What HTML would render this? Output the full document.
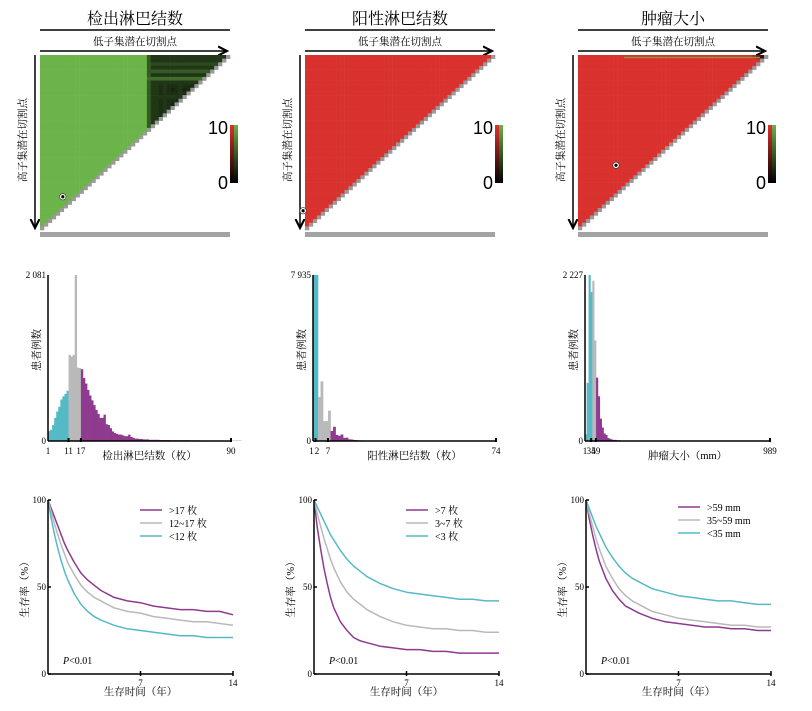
<!DOCTYPE html>
<html><head><meta charset="utf-8">
<style>
html,body{margin:0;padding:0;background:#fff;}
svg{display:block;font-family:"Liberation Serif","Noto Serif CJK SC","Noto Sans CJK SC",serif;}
</style></head>
<body>
<svg id="fig" width="812" height="711" viewBox="0 0 812 711" xmlns="http://www.w3.org/2000/svg">
<defs>
<linearGradient id="gG" x1="0" y1="1" x2="0" y2="0"><stop offset="0" stop-color="#000"/><stop offset="1" stop-color="#6ab24a"/></linearGradient>
<linearGradient id="gR" x1="0" y1="1" x2="0" y2="0"><stop offset="0" stop-color="#000"/><stop offset="1" stop-color="#e0302c"/></linearGradient>
<marker id="ah" markerWidth="8" markerHeight="8" refX="6" refY="4" orient="auto"><path d="M0,1 L6,4 L0,7" fill="none" stroke="#000" stroke-width="1.4"/></marker>
</defs>
</svg>
<script>
// ---------- data ----------
const panelTitles = ["检出淋巴结数","阳性淋巴结数","肿瘤大小"];
const panelX = [40, 305, 578];
const hm1ColVals = [10,10,10,10,10,10,10,10,10,10,10,10,10,10,10,10,10,10,10,10,10,10,10,10,10,10,10,5,3,3,2.5,3,2.5,2,2.5,3,2,2.5,2,3,2,2,1.5,2,1.5,1,1,1];
const hm1RowVals = [3,3,4,3,5,3,6,3,2.5,2,2.5,3,2.5,2,2,2,2.5,2,2,4,10,10,10,10,10,10,10,10,10,10,10,10,10,10,10,10,10,10,10,10,10,10,10,10,10,10,10,10];
const hm3ColVals = [10,10,10,10,10,10,10,10,10,10,10,10,10,10,10,10,10,10,10,10,10,10,10,10,10,10,10,10,10,10,10,10,10,10,10,10,10,10,10,10,10,10,10,10,8,5,2,1];
const hm3RowVals = [3,10,10,10,10,10,10,10,10,10,10,10,10,10,10,10,10,10,10,10,10,10,10,10,10,10,10,10,10,10,10,10,10,10,10,10,10,10,10,10,10,10,10,10,10,10,10,10];
const dots = [[0.12,0.81],[-0.01,0.89],[0.2,0.63]];

const h1Bins = [1,2,3,4,5,6,7,8,9,10,11,12,13,14,15,16,17,18,19,20,21,22,23,24,25,26,27,28,29,30,31,32,33,34,35,36,37,38,39,40,41,42,43,44,45,46,47,48,49,50,55,60,65,70,75,80,85,90];
const h1Vals = [125,140,200,290,370,430,520,560,590,630,1080,1060,1080,2081,920,915,900,790,720,640,570,510,450,390,340,290,290,330,210,200,160,120,100,90,80,80,70,60,60,80,50,40,30,30,25,25,20,20,20,15,12,10,10,8,6,5,4,3];
const h1Cut = [11,17];
const h2Bins = [1,2,3,4,5,6,7,8,9,10,11,12,13,14,15,16,17,18,19,20,22,24,26,28,30];
const h2Vals = [7935,7935,2100,2850,950,950,1450,480,680,290,250,310,150,160,80,70,50,40,30,25,20,15,10,8,5];
const h2Cut = [3,8];
const h3Bins = [1,10,20,30,40,50,60,70,80,90,100,110,120,130,140,150,170,190];
const h3Vals = [90,780,2227,2000,2150,1350,850,600,300,180,100,80,40,30,20,15,10,5];
const h3Cut = [35,59];
const histMax = [90,74,989];
const histYMax = ["2 081","7 935","2 227"];
const histTicks = [["1","11","17"],["1","2","7"],["1","34","59"]];
const histTickVals = [[1,11,17],[1,2,7],[1,34,59]];
const histXTitles = ["检出淋巴结数（枚）","阳性淋巴结数（枚）","肿瘤大小（mm）"];

const years = [0,0.25,0.5,0.75,1,1.25,1.5,2,2.5,3,3.5,4,5,6,7,8,9,10,11,12,13,14];
const s1a = [100,95,90,85,80,75,71,64,58,54,51,48,44,42,41,39,38,37,37,36,36,34];
const s1b = [100,93,86,80,74,69,64,57,51,47,44,42,38,36,35,33,32,31,30,30,29,28];
const s1c = [100,89,80,72,65,59,54,46,40,36,33,31,28,26,25,24,23,22,22,21,21,21];
const s2a = [100,84,72,61,52,44,38,30,25,21,19,18,16,15,14,14,13,13,12,12,12,12];
const s2b = [100,92,85,78,72,66,61,53,47,43,40,37,33,30,28,27,26,26,25,25,24,24];
const s2c = [100,96,92,88,84,80,77,71,66,62,59,56,52,49,47,46,45,44,43,43,42,42];
const s3a = [100,89,80,72,65,60,55,48,43,39,37,35,32,30,29,28,27,27,26,26,25,25];
const s3b = [100,92,85,78,72,67,62,55,49,45,42,40,36,34,32,31,30,29,28,28,27,27];
const s3c = [100,95,90,85,81,77,73,67,62,58,55,53,49,47,45,44,43,42,42,41,40,40];
const legends = [[">17 枚","12~17 枚","<12 枚"],[">7 枚","3~7 枚","<3 枚"],[">59 mm","35~59 mm","<35 mm"]];

// ---------- drawing ----------
const NS="http://www.w3.org/2000/svg";
const svg=document.getElementById("fig");
function mk(tag,attrs,parent){const e=document.createElementNS(NS,tag);for(const k in attrs)e.setAttribute(k,attrs[k]);(parent||svg).appendChild(e);return e;}
function txt(s,attrs,parent){const e=mk("text",attrs,parent);e.textContent=s;return e;}
const PUR="#8e3a8e",GRY="#b9b9b9",TEAL="#55bac6";
function mix(a,b,t){return "rgb("+[0,1,2].map(i=>Math.round(a[i]+(b[i]-a[i])*t)).join(",")+")";}

for(let p=0;p<3;p++){
  const x0=panelX[p], W=190;
  const g=mk("g",{});
  
  
  const t=txt(panelTitles[p],{x:x0+95,y:24,"font-size":16,"text-anchor":"middle"},g);
  
  
  mk("line",{x1:x0,y1:30,x2:x0+W,y2:30,stroke:"#000","stroke-width":1.6},g);
  const st=txt("低子集潜在切割点",{x:x0+95,y:45,"font-size":10.5,"text-anchor":"middle"},g);
  
  
  mk("line",{x1:x0,y1:51,x2:x0+W-3,y2:51,stroke:"#000","stroke-width":1.5,"marker-end":"url(#ah)"},g);
  mk("line",{x1:x0-5,y1:55,x2:x0-5,y2:228,stroke:"#000","stroke-width":1.5,"marker-end":"url(#ah)"},g);
  const vl=txt("高子集潜在切割点",{x:0,y:0,"font-size":10.5,"text-anchor":"middle",transform:`translate(${x0-14},140) rotate(-90)`},g);
  
  
  const N=48, c=W/N, top=55;
  const hm=mk("g",{},g);
  
  
  const base = p===0?[108,180,74]:[217,50,46];
  for(let i=0;i<N;i++){for(let j=0;j<N-i;j++){
    let v=10;
    if(p===0) v=Math.max(hm1ColVals[j],hm1RowVals[i]);
    if(p===2) v=Math.max(hm3ColVals[j],hm3RowVals[i]);
    const col=mix([0,0,0],base,v/10);
    const last=(j===N-i-1);
    const r=mk("rect",{x:x0+j*c,y:top+i*(175/N),width:c+0.3,height:175/N+0.3,fill:last?"#9a9a9a":col},hm);
    
    
  }}
  if(p===2) mk("line",{x1:x0+46,y1:57.5,x2:x0+182,y2:57.5,stroke:"#8a9a3a","stroke-width":1.2},g);
  mk("rect",{x:x0,y:232,width:W,height:5,fill:"#a3a3a3"},g);
  const d=dots[p];
  mk("circle",{cx:x0+d[0]*W,cy:top+d[1]*175,r:3.2,fill:"#fff",stroke:"#333","stroke-width":0.6},g);
  mk("circle",{cx:x0+d[0]*W,cy:top+d[1]*175,r:1.6,fill:"#000"},g);
  const cb=mk("g",{},g);
  
  
  mk("rect",{x:x0+190,y:125,width:4,height:58,fill:"url(#gR)"},cb);
  mk("rect",{x:x0+194,y:125,width:4,height:58,fill:"url(#gG)"},cb);
  txt("10",{x:x0+188,y:134,"font-size":18,"font-family":"Liberation Sans, sans-serif","text-anchor":"end"},cb);
  txt("0",{x:x0+188,y:189,"font-size":18,"font-family":"Liberation Sans, sans-serif","text-anchor":"end"},cb);
}

const HB=[{bins:h1Bins,vals:h1Vals,cut:h1Cut},{bins:h2Bins,vals:h2Vals,cut:h2Cut},{bins:h3Bins,vals:h3Vals,cut:h3Cut}];
const histAxisX=[48,313,585], histRight=[231,496,770], hTop=275, hBase=441;
for(let p=0;p<3;p++){
  const g=mk("g",{});
  
  
  const ax=histAxisX[p], xr=histRight[p], mx=histMax[p];
  const H=HB[p]; const ymax=Math.max(...H.vals);
  const xS=v=>ax+(v-1)/(mx-1)*(xr-ax);
  const yS=v=>hBase-v/ymax*(hBase-hTop);
  for(let i=0;i<H.bins.length;i++){
    const b=H.bins[i]; const nb=i+1<H.bins.length?H.bins[i+1]:b+(b-H.bins[i-1]);
    const col=b<H.cut[0]?TEAL:(b<H.cut[1]?GRY:PUR);
    const r=mk("rect",{x:xS(b),y:yS(H.vals[i]),width:Math.max(0.8,xS(nb)-xS(b))+0.3,height:hBase-yS(H.vals[i]),fill:col},g);
    
    
  }
  mk("line",{x1:ax,y1:hTop,x2:ax,y2:hBase,stroke:"#000","stroke-width":1.5},g);
  mk("line",{x1:ax,y1:hBase,x2:xr,y2:hBase,stroke:"#000","stroke-width":1.5},g);
  mk("line",{x1:xr,y1:hBase-3,x2:xr,y2:hBase+1,stroke:"#000","stroke-width":2},g);
  txt(histYMax[p],{x:ax-2,y:hTop+3,"font-size":9,"text-anchor":"end"},g);
  txt("0",{x:ax-2,y:hBase+3,"font-size":9,"text-anchor":"end"},g);
  histTickVals[p].forEach((v,k)=>{
    if(k>0) mk("line",{x1:xS(v),y1:hBase-3,x2:xS(v),y2:hBase+1,stroke:"#000","stroke-width":2},g);
    txt(histTicks[p][k],{x:xS(v)+(p===1&&k===0?-1.5:0)+(p===1&&k===1?1.5:0),y:hBase+13,"font-size":9,"text-anchor":"middle"},g);
  });
  txt(String(mx),{x:xr,y:hBase+13,"font-size":9,"text-anchor":"middle"},g);
  const xt=txt(histXTitles[p],{x:(ax+xr)/2+10,y:hBase+18,"font-size":10.5,"text-anchor":"middle"},g);
  
  
  const yt=txt("患者例数",{x:0,y:0,"font-size":10.5,"text-anchor":"middle",transform:`translate(${ax-8},350) rotate(-90)`},g);
  
  
}

const SV=[[s1a,s1b,s1c],[s2a,s2b,s2c],[s3a,s3b,s3c]];
const sAx=[48,314,586], sRight=[233,499,771], sTop=500, sBase=674;
for(let p=0;p<3;p++){
  const g=mk("g",{});
  
  
  const ax=sAx[p], xr=sRight[p];
  const xS=v=>ax+v/14*(xr-ax);
  const yS=v=>sBase-v/100*(sBase-sTop);
  const cols=[PUR,GRY,TEAL];
  SV[p].forEach((ser,k)=>{
    const d=ser.map((v,i)=>(i?"L":"M")+xS(years[i]).toFixed(1)+","+yS(v).toFixed(1)).join(" ");
    const pa=mk("path",{d:d,fill:"none",stroke:cols[k],"stroke-width":1.5,"stroke-linejoin":"round"},g);
    
    
  });
  mk("line",{x1:ax,y1:sTop,x2:ax,y2:sBase,stroke:"#000","stroke-width":1.5},g);
  mk("line",{x1:ax,y1:sBase,x2:xr,y2:sBase,stroke:"#000","stroke-width":1.5},g);
  [0,50,100].forEach(v=>{
    mk("line",{x1:ax,y1:yS(v),x2:ax+3,y2:yS(v),stroke:"#000","stroke-width":1.5},g);
    txt(String(v),{x:ax-2,y:yS(v)+3,"font-size":9,"text-anchor":"end"},g);
  });
  [7,14].forEach(v=>{
    mk("line",{x1:xS(v),y1:sBase-3,x2:xS(v),y2:sBase+2,stroke:"#000","stroke-width":1.5},g);
    txt(String(v),{x:xS(v),y:sBase+12,"font-size":9,"text-anchor":"middle"},g);
  });
  const xt=txt("生存时间（年）",{x:(ax+xr)/2,y:695,"font-size":10.5,"text-anchor":"middle"},g);
  
  
  const yt=txt("生存率（%）",{x:0,y:0,"font-size":10.5,"text-anchor":"middle",transform:`translate(${ax-20},587) rotate(-90)`},g);
  
  
  const pv=mk("text",{x:ax+15,y:664,"font-size":10},g);
  pv.innerHTML='<tspan font-style="italic">P</tspan>&lt;0.01';
  
  
  const lx=ax+92, ly=p===2?507:510;
  legends[p].forEach((s,k)=>{
    const le=mk("g",{},g);
    
    
    mk("line",{x1:lx,y1:ly+k*13,x2:lx+22,y2:ly+k*13,stroke:cols[k],"stroke-width":1.5},le);
    txt(s,{x:lx+29,y:ly+k*13+4,"font-size":10},le);
  });
}
</script>
</body></html>
